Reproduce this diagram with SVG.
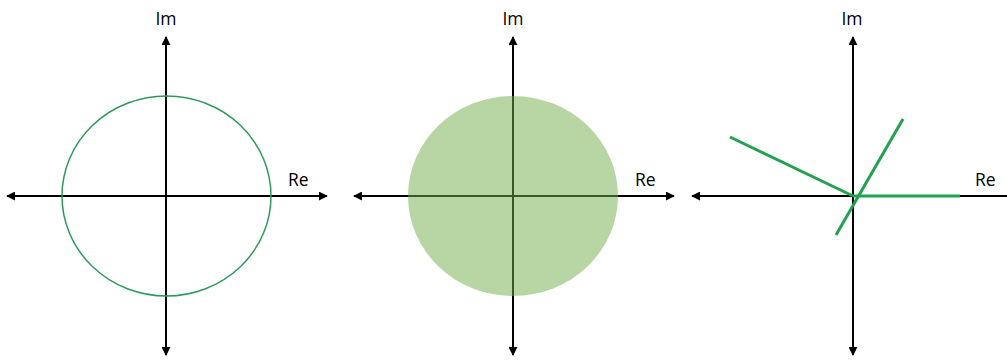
<svg xmlns="http://www.w3.org/2000/svg" width="1007" height="362" viewBox="0 0 1007 362">
<style>
.axis{stroke:#000;stroke-width:2;fill:none}
.lbl{font-family:"Open Sans","Liberation Sans",Arial,sans-serif;font-size:17.5px;fill:#000}
.ray{stroke:#22a24f;stroke-width:3;stroke-linecap:butt;fill:none}
</style>
<defs>
<marker id="ah" viewBox="0 0 10 10" refX="9" refY="5" markerWidth="4.5" markerHeight="4.5" orient="auto-start-reverse" markerUnits="strokeWidth">
<path d="M0,0 L10,5 L0,10 z" fill="#000"/>
</marker>
</defs>
<rect width="1007" height="362" fill="#fff"/>
<g id="panel1">
<line class="axis" x1="166" y1="355" x2="166" y2="37" marker-end="url(#ah)" marker-start="url(#ah)"/>
<line class="axis" x1="7" y1="196" x2="327" y2="196" marker-end="url(#ah)" marker-start="url(#ah)"/>
<ellipse cx="166.5" cy="196" rx="104.5" ry="100" fill="none" stroke="#2e9a5c" stroke-width="1.5"/>
<text class="lbl" x="166" y="25" text-anchor="middle">Im</text>
<text class="lbl" x="288" y="186">Re</text>
</g>
<g id="panel2">
<line class="axis" x1="513" y1="355" x2="513" y2="37" marker-end="url(#ah)" marker-start="url(#ah)"/>
<line class="axis" x1="354" y1="196" x2="674" y2="196" marker-end="url(#ah)" marker-start="url(#ah)"/>
<ellipse cx="513" cy="196" rx="105" ry="100" fill="#70ad47" fill-opacity="0.5"/>
<text class="lbl" x="513" y="25" text-anchor="middle">Im</text>
<text class="lbl" x="635" y="186">Re</text>
</g>
<g id="panel3">
<line class="axis" x1="853" y1="355" x2="853" y2="37" marker-end="url(#ah)" marker-start="url(#ah)"/>
<line class="axis" x1="692" y1="196" x2="1007" y2="196" marker-start="url(#ah)"/>
<g id="rays">
<line class="ray" x1="853" y1="196" x2="730" y2="137"/>
<line class="ray" x1="836" y1="235" x2="903" y2="119"/>
<line class="ray" x1="853" y1="196" x2="960" y2="196"/>
</g>
<text class="lbl" x="852" y="25" text-anchor="middle">Im</text>
<text class="lbl" x="975" y="186">Re</text>
</g>
</svg>
